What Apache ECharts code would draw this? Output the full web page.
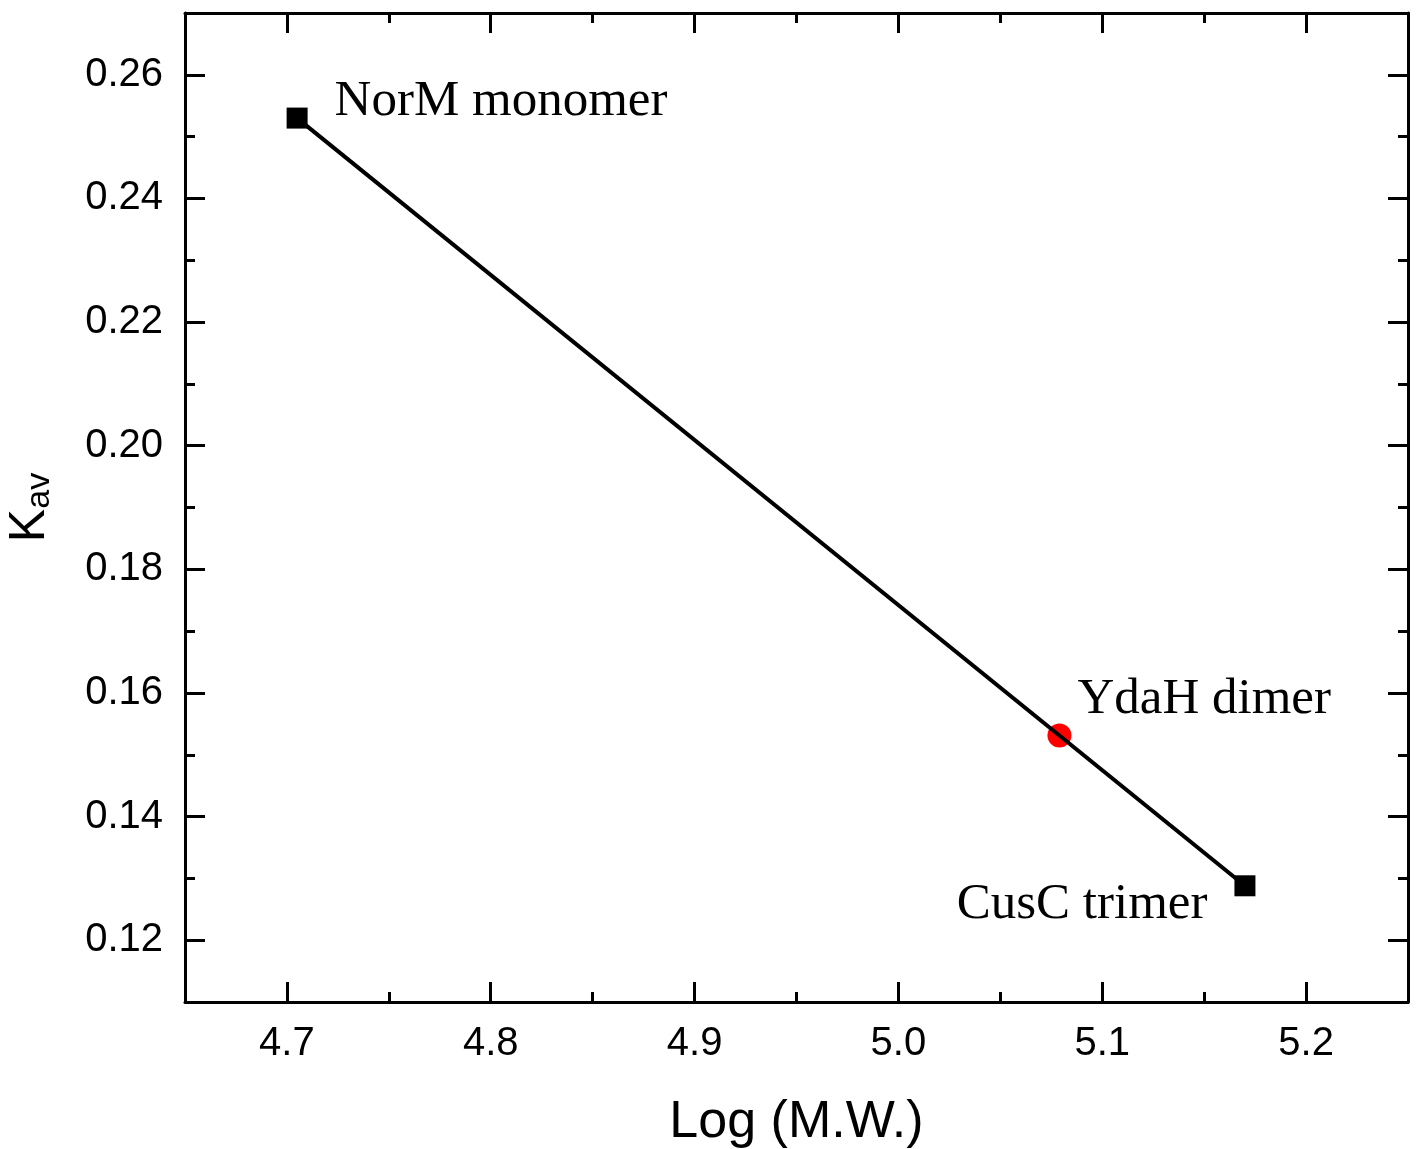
<!DOCTYPE html>
<html>
<head>
<meta charset="utf-8">
<script src="https://cdn.jsdelivr.net/npm/echarts@6/dist/echarts.min.js"></script>
<style>
html, body { margin: 0; padding: 0; background: #fff; }
#main { width: 1417px; height: 1149px; }
</style>
</head>
<body>
<div id="main"></div>
<script>
// calibration points (squares) and the sample (red circle)
const stdNames = ['NorM monomer', 'CusC trimer'];
const stdLogMW = [4.705, 5.17];
const stdKav = [0.253, 0.1288];

const sampleNames = ['YdaH dimer'];
const sampleLogMW = [5.079];
const sampleKav = [0.1531];

const xTicks = [4.7, 4.8, 4.9, 5.0, 5.1, 5.2];
const yTicks = [0.12, 0.14, 0.16, 0.18, 0.20, 0.22, 0.24, 0.26];

const labelFont = 'Liberation Serif';
const sansFont = 'Liberation Sans';

let black = { color: '#000', width: 3 };

// one axis for the short (minor) ticks, one overlapping it for the long ticks and labels
function xPair(pos, withLabels) {
    let minorAx = {
        type: 'value', min: 4.65, max: 5.25, interval: 0.05, position: pos,
        axisLine: { show: true, onZero: false, lineStyle: black },
        axisTick: { show: true, inside: true, length: 10, lineStyle: black },
        axisLabel: { show: false }, splitLine: { show: false }
    };
    let majorAx = {
        type: 'value', min: 4.65, max: 5.25, interval: 0.05, position: pos,
        axisLine: { show: false, onZero: false },
        axisTick: { show: true, inside: true, length: 20, lineStyle: black, customValues: xTicks },
        axisLabel: withLabels ? {
            show: true, customValues: xTicks, color: '#000', fontFamily: sansFont, fontSize: 40, margin: 22,
            formatter: v => v.toFixed(1)
        } : { show: false },
        splitLine: { show: false }
    };
    if (withLabels) {
        majorAx.name = 'Log (M.W.)';
        majorAx.nameLocation = 'middle';
        majorAx.nameGap = 95;
        majorAx.nameTextStyle = { color: '#000', fontFamily: sansFont, fontSize: 52 };
    }
    return [minorAx, majorAx];
}

function yPair(pos, withLabels) {
    let minorAx = {
        type: 'value', min: 0.11, max: 0.27, interval: 0.01, position: pos,
        axisLine: { show: true, onZero: false, lineStyle: black },
        axisTick: { show: true, inside: true, length: 10, lineStyle: black },
        axisLabel: { show: false }, splitLine: { show: false }
    };
    let majorAx = {
        type: 'value', min: 0.11, max: 0.27, interval: 0.01, position: pos,
        axisLine: { show: false, onZero: false },
        axisTick: { show: true, inside: true, length: 20, lineStyle: black, customValues: yTicks },
        axisLabel: withLabels ? {
            show: true, customValues: yTicks, color: '#000', fontFamily: sansFont, fontSize: 40, margin: 22,
            formatter: v => v.toFixed(2)
        } : { show: false },
        splitLine: { show: false }
    };
    if (withLabels) {
        majorAx.name = '{k|K}{s|av}';
        majorAx.nameLocation = 'middle';
        majorAx.nameGap = 128;
        majorAx.nameRotate = 90;
        majorAx.nameTextStyle = {
            color: '#000', fontFamily: sansFont,
            rich: {
                k: { fontSize: 50, fontFamily: sansFont, color: '#000' },
                s: { fontSize: 34, fontFamily: sansFont, color: '#000', verticalAlign: 'bottom', padding: [20, 0, 0, 0] }
            }
        };
    }
    return [minorAx, majorAx];
}

let stdLabels = [
    { position: 'right', offset: [22, -16] },
    { position: 'left', offset: [-22, 19] }
];

let options = {
    animation: false,
    backgroundColor: '#fff',
    grid: { left: 185, right: 9, top: 13, bottom: 147, outerBoundsMode: 'none', containLabel: false },
    xAxis: [...xPair('bottom', true), ...xPair('top', false)],
    yAxis: [...yPair('left', true), ...yPair('right', false)],
    series: [
        {
            type: 'line',
            data: stdLogMW.map((x, i) => ({
                name: stdNames[i], value: [x, stdKav[i]],
                label: Object.assign({ show: true, formatter: '{b}' }, stdLabels[i])
            })),
            symbol: 'rect', symbolSize: 21,
            itemStyle: { color: '#000' },
            lineStyle: { color: '#000', width: 4 },
            label: { color: '#000', fontFamily: labelFont, fontSize: 51 },
            z: 3
        },
        {
            type: 'scatter',
            data: sampleLogMW.map((x, i) => ({ name: sampleNames[i], value: [x, sampleKav[i]] })),
            symbol: 'circle', symbolSize: 24,
            itemStyle: { color: '#ff0000', opacity: 1 },
            label: {
                show: true, formatter: '{b}', position: 'right', offset: [1, -36],
                color: '#000', fontFamily: labelFont, fontSize: 51
            },
            z: 2
        }
    ]
};

let myChart = echarts.init(document.getElementById('main'));
myChart.setOption(options);
</script>
</body>
</html>
